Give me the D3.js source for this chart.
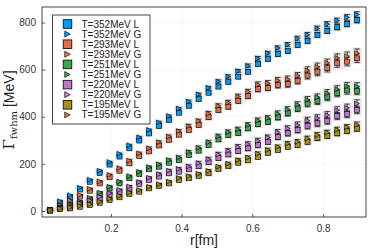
<!DOCTYPE html>
<html><head><meta charset="utf-8">
<script src="https://cdn.jsdelivr.net/npm/d3@7"></script>
<style>
body{margin:0;background:#fff;}
svg{display:block;font-family:"Liberation Sans",Arial,sans-serif;}
</style></head>
<body>
<svg id="c" width="374" height="249"></svg>
<script>
const nPts = [1,2,3,4,5,6,7,8,9,10,11,12,13,14,15,16,17,18,19,20,21,22,23,24,25,26,27,28,29,30,31,32];
const spacing = 0.028;
const temps = ["352","293","251","220","195"];
const colors = ["#009AFA","#E36F47","#3EA44E","#C371D2","#AC8E18"];

const L352 = [5,36,60,91,124,161,197,231,266,299,329,360,386,417,446,475,502,528,548,570,591,624,645,666,679,705,721,747,765,780,794,810];
const G352 = [6,41,67,99,133,171,208,243,279,313,344,376,403,435,465,495,523,550,571,594,616,648,670,692,706,732,748,775,793,808,822,834];
const L293 = [3,20,40,61,86,117,143,171,202,233,253,278,302,324,344,365,398,429,443,468,488,518,523,535,539,553,575,590,606,627,634,648];
const G293 = [4,24,45,68,94,126,153,182,214,245,266,292,316,339,360,382,414,446,460,486,506,536,542,554,559,574,597,612,629,650,657,670];
const L251 = [2,12,25,35,50,72,96,117,139,157,177,188,205,216,238,256,280,304,322,332,351,369,379,398,415,435,456,466,483,500,512,510];
const G251 = [3,15,29,40,56,78,103,125,148,166,186,198,216,227,250,268,292,317,335,346,365,384,394,413,431,451,472,483,500,517,530,529];
const L220 = [2,10,18,28,40,54,70,82,96,115,132,146,160,167,177,190,207,225,240,255,266,280,294,315,330,344,362,372,383,403,412,429];
const G220 = [3,12,21,32,45,60,76,89,104,123,141,156,171,178,189,203,220,240,256,272,284,298,312,334,350,365,384,395,407,428,438,456];
const L195 = [2,8,11,18,25,35,47,58,72,82,96,106,117,132,139,149,160,178,190,205,215,230,247,259,273,280,294,309,318,330,340,350];
const G195 = [3,10,14,21,29,40,52,64,78,89,103,114,125,140,148,158,170,188,201,216,227,243,259,272,286,294,308,323,333,345,356,366];

const E352 = [1,1,2,2,2,3,3,3,4,4,4,5,5,5,6,6,6,7,7,7,8,8,8,9,9,10,10,10,11,11,12,12];
const E293 = [1,1,2,2,3,3,4,4,5,5,6,6,7,7,8,8,9,9,10,10,11,12,12,13,14,14,15,16,16,17,18,18];
const E251 = [1,1,1,2,2,3,3,4,4,5,5,6,6,7,7,8,8,9,9,10,10,11,11,12,12,13,14,14,15,15,16,16];
const E220 = [1,1,1,2,2,3,3,4,4,5,5,6,6,7,7,8,8,9,9,10,10,11,11,12,12,13,14,14,15,15,16,16];
const E195 = [1,1,1,1,2,2,2,3,3,3,4,4,4,5,5,5,6,6,6,7,7,8,8,8,9,9,10,10,10,11,11,12];

const xTicks = [0.2,0.4,0.6,0.8];
const yTicks = [0,200,400,600,800];
const xTitle = "r[fm]";

const Ls = [L352,L293,L251,L220,L195];
const Gs = [G352,G293,G251,G220,G195];
const Es = [E352,E293,E251,E220,E195];

const svg = d3.select("#c");
const W = 374, H = 249;
const m = {l:42, r:8, t:7, b:32};
const pw = W - m.l - m.r, ph = H - m.t - m.b;
const x = d3.scaleLinear().domain([0.0048, 0.9214]).range([m.l, m.l+pw]);
const y = d3.scaleLinear().domain([-25.5, 866]).range([m.t+ph, m.t]);

// grid
const g = svg.append("g");
g.selectAll(".gx").data(xTicks).join("line")
  .attr("x1",d=>x(d)).attr("x2",d=>x(d)).attr("y1",m.t).attr("y2",m.t+ph)
  .attr("stroke","#000").attr("stroke-opacity",0.08).attr("stroke-width",0.6);
g.selectAll(".gy").data(yTicks).join("line")
  .attr("y1",d=>y(d)).attr("y2",d=>y(d)).attr("x1",m.l).attr("x2",m.l+pw)
  .attr("stroke","#000").attr("stroke-opacity",0.08).attr("stroke-width",0.6);

// axes
const xa = svg.append("g").attr("transform",`translate(0,${m.t+ph})`)
  .call(d3.axisBottom(x).tickValues(xTicks).tickSize(-3).tickPadding(6).tickFormat(d3.format(".1f")));
const ya = svg.append("g").attr("transform",`translate(${m.l},0)`)
  .call(d3.axisLeft(y).tickValues(yTicks).tickSize(-3).tickPadding(6).tickFormat(d3.format("d")));
[xa,ya].forEach(a=>{
  a.select(".domain").remove();
  a.selectAll("line").attr("stroke","#333").attr("stroke-width",0.8);
  a.selectAll("text").attr("font-size","10px").attr("fill","#333").attr("font-family","Liberation Sans, Arial, sans-serif");
});
xa.selectAll("text").attr("dy","0.85em");

// data layers
const layer = svg.append("g");
const sq = 5, tr = 5;
for (let s=0; s<5; s++){
  const rows = nPts.map((n,i)=>({r:n*spacing, l:Ls[s][i], g:Gs[s][i], e:Es[s][i]}));
  const sg = layer.append("g");
  // gray halo
  sg.selectAll("rect.h").data(rows).join("rect")
    .attr("x",d=>x(d.r)-4.5).attr("width",9)
    .attr("y",d=>y(d.g+d.e)-1.5).attr("height",d=>y(d.l-d.e)-y(d.g+d.e)+3)
    .attr("fill","#888").attr("opacity",0.2);
  // errorbars for L and G
  ["l","g"].forEach(k=>{
    sg.selectAll("line.e"+k).data(rows).join("line")
      .attr("x1",d=>x(d.r)).attr("x2",d=>x(d.r))
      .attr("y1",d=>y(d[k]-d.e)).attr("y2",d=>y(d[k]+d.e))
      .attr("stroke","#000").attr("stroke-width",0.7);
    [-1,1].forEach(sgn=>{
      sg.selectAll("line.c"+k+sgn).data(rows).join("line")
        .attr("x1",d=>x(d.r)-2.8).attr("x2",d=>x(d.r)+2.8)
        .attr("y1",d=>y(d[k]+sgn*d.e)).attr("y2",d=>y(d[k]+sgn*d.e))
        .attr("stroke","#000").attr("stroke-width",0.7);
    });
  });
  sg.selectAll("rect.m").data(rows).join("rect")
    .attr("x",d=>x(d.r)-sq/2).attr("y",d=>y(d.l)-sq/2)
    .attr("width",sq).attr("height",sq)
    .attr("fill",colors[s]).attr("stroke","#000").attr("stroke-width",0.6);
  sg.selectAll("path.t").data(rows).join("path")
    .attr("d",d=>{const cx=x(d.r), cy=y(d.g); return `M${cx-tr/2},${cy-tr/2}L${cx+tr/2},${cy}L${cx-tr/2},${cy+tr/2}Z`;})
    .attr("fill",colors[s]).attr("stroke","#000").attr("stroke-width",0.6);
}

// frame
svg.append("rect").attr("x",m.l).attr("y",m.t).attr("width",pw).attr("height",ph)
  .attr("fill","none").attr("stroke","#444").attr("stroke-width",1);

// legend
const lg = svg.append("g");
lg.append("rect").attr("x",52.5).attr("y",15).attr("width",97.5).attr("height",109)
  .attr("fill","#fff").attr("stroke","#444").attr("stroke-width",1);
const labels = [];
temps.forEach((t,i)=>{ labels.push({t:`T=${t}MeV L`,c:colors[i],k:"L"}); labels.push({t:`T=${t}MeV G`,c:colors[i],k:"G"}); });
labels.forEach((d,i)=>{
  const cy = 24 + i*10.1;
  if (d.k==="L"){
    lg.append("rect").attr("x",67.5-4.3).attr("y",cy-4.3).attr("width",8.6).attr("height",8.6)
      .attr("fill",d.c).attr("stroke","#000").attr("stroke-width",0.8);
  } else {
    lg.append("path").attr("d",`M${67.5-2.8},${cy-3}L${67.5+2.8},${cy}L${67.5-2.8},${cy+3}Z`)
      .attr("fill",d.c).attr("stroke","#000").attr("stroke-width",0.6);
  }
  lg.append("text").attr("x",81.5).attr("y",cy).attr("dy","0.35em")
    .attr("font-size","10px").attr("fill","#222").text(d.t);
});

// titles
svg.append("text").attr("x",204).attr("y",245).attr("text-anchor","middle")
  .attr("font-size","14px").attr("fill","#222").text(xTitle);
const yt = svg.append("text").attr("transform","translate(14,110) rotate(-90)")
  .attr("text-anchor","middle").attr("fill","#222");
yt.append("tspan").attr("font-family","DejaVu Serif, serif").attr("font-size","15px").text("Γ");
yt.append("tspan").attr("font-family","DejaVu Serif, serif").attr("font-size","10px").attr("dy","3").text("fwhm");
yt.append("tspan").attr("font-size","14px").attr("dy","-3").text(" [MeV]");
</script>
</body></html>
